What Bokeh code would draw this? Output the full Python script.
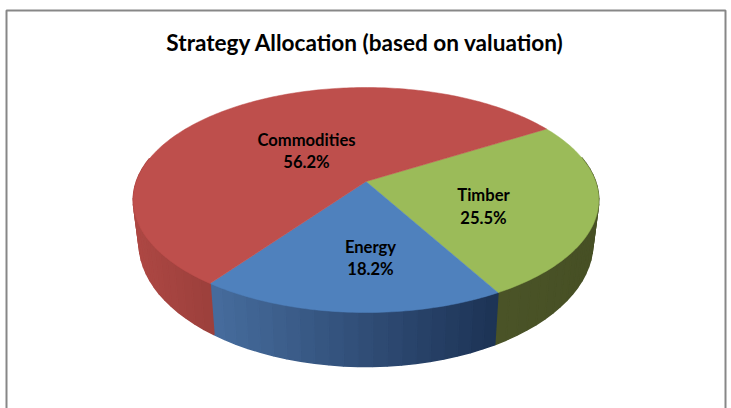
import math
from bokeh.plotting import figure
from bokeh.models import Range1d
from bokeh.core.properties import value
from bokeh.embed import file_html
from bokeh.resources import INLINE

title = "Strategy Allocation (based on valuation)"
categories = ["Timber", "Energy", "Commodities"]
shares = [25.5, 18.2, 56.2]
share_labels = ["25.5%", "18.2%", "56.2%"]

FONT = value("Lato")
W, H = 731, 408
TOP_COL = ["#9BBB59", "#4F81BD", "#BE4F4C"]
WALL_L = [(0x4B, 0x54, 0x28), (0x47, 0x6D, 0x9E), (0xAE, 0x48, 0x44)]
WALL_R = [(0x47, 0x50, 0x25), (0x1D, 0x33, 0x55), (0x9C, 0x40, 0x3C)]
CX, CY, BACK, FRONT, A = 365.5, 181.0, 87.0, 312.0, 229.6
START = 58.6
LABEL_POS = [(483, 194, 217), (370, 246, 268), (306, 139, 161)]

c = ((2 * CY) - BACK - FRONT) / (FRONT - BACK) * -1
b = BACK + BACK * c - CY


def top(deg):
    t = math.radians(deg)
    u, v = math.sin(t), math.cos(t)
    d = 1 + c * v
    return CX + A * u / d, (CY + b * v) / d


def bottom(deg):
    x, y = top(deg)
    return CX + (x - CX) * 0.975, y * 1.10 + 22.8


p = figure(width=W, height=H, output_backend="svg", toolbar_location=None,
           x_range=Range1d(0, W), y_range=Range1d(H, 0), min_border=0,
           outline_line_color=None)
p.axis.visible = False
p.grid.visible = False
p.background_fill_color = "white"
p.border_fill_color = "white"

# chart frame, open past the window's lower edge
p.line([6, 6, 725, 725], [H + 5, 10, 10, H + 5], line_color="#878787", line_width=2)

total = sum(shares)
edges = [START]
for s in shares:
    edges.append(edges[-1] + s / total * 360)

# side wall, shaded in thin strips drawn with overlap
for i in range(3):
    a0, a1 = edges[i], edges[i + 1]
    n = max(2, int((a1 - a0) / 3))
    angs = [a0 + (a1 - a0) * k / n for k in range(n + 1)]
    vis = [top(a)[0] for a in angs if math.cos(math.radians(a)) < 0.2]
    xmin, xmax = min(vis), max(vis)
    for k in range(n):
        d0, d1 = angs[k], angs[k + 1]
        if math.cos(math.radians((d0 + d1) / 2)) > 0.2:
            continue
        t0, t1, b1, b0 = top(d0), top(d1), bottom(d1), bottom(d0)
        f = min(1, max(0, ((t0[0] + t1[0]) / 2 - xmin) / max(1, xmax - xmin)))
        rgb = tuple(int(l + (r - l) * f) for l, r in zip(WALL_L[i], WALL_R[i]))
        col = "#%02x%02x%02x" % rgb
        p.patch([t0[0], t1[0], b1[0], b0[0]], [t0[1], t1[1], b1[1], b0[1]],
                fill_color=col, line_color=col, line_width=1.5)

# top face
for i in range(3):
    a0, a1 = edges[i], edges[i + 1]
    n = max(2, int((a1 - a0) / 1.0))
    pts = [top(a0 + (a1 - a0) * k / n) for k in range(n + 1)]
    xs = [CX] + [q[0] for q in pts]
    ys = [CY] + [q[1] for q in pts]
    p.patch(xs, ys, fill_color=TOP_COL[i], line_color=TOP_COL[i], line_width=0.5)

for i, name in enumerate(categories):
    x, y1, y2 = LABEL_POS[i]
    p.text([x, x], [y1, y2], text=[name, share_labels[i]], text_font=FONT, text_font_style="bold",
           text_font_size="16.6px", text_color="black", text_align="center", text_baseline="middle")

p.text([365], [42], text=[title], text_font=FONT, text_font_style="bold", text_font_size="22.6px",
       text_color="black", text_align="center", text_baseline="middle")

open("out.html", "w").write(file_html(p, INLINE))
